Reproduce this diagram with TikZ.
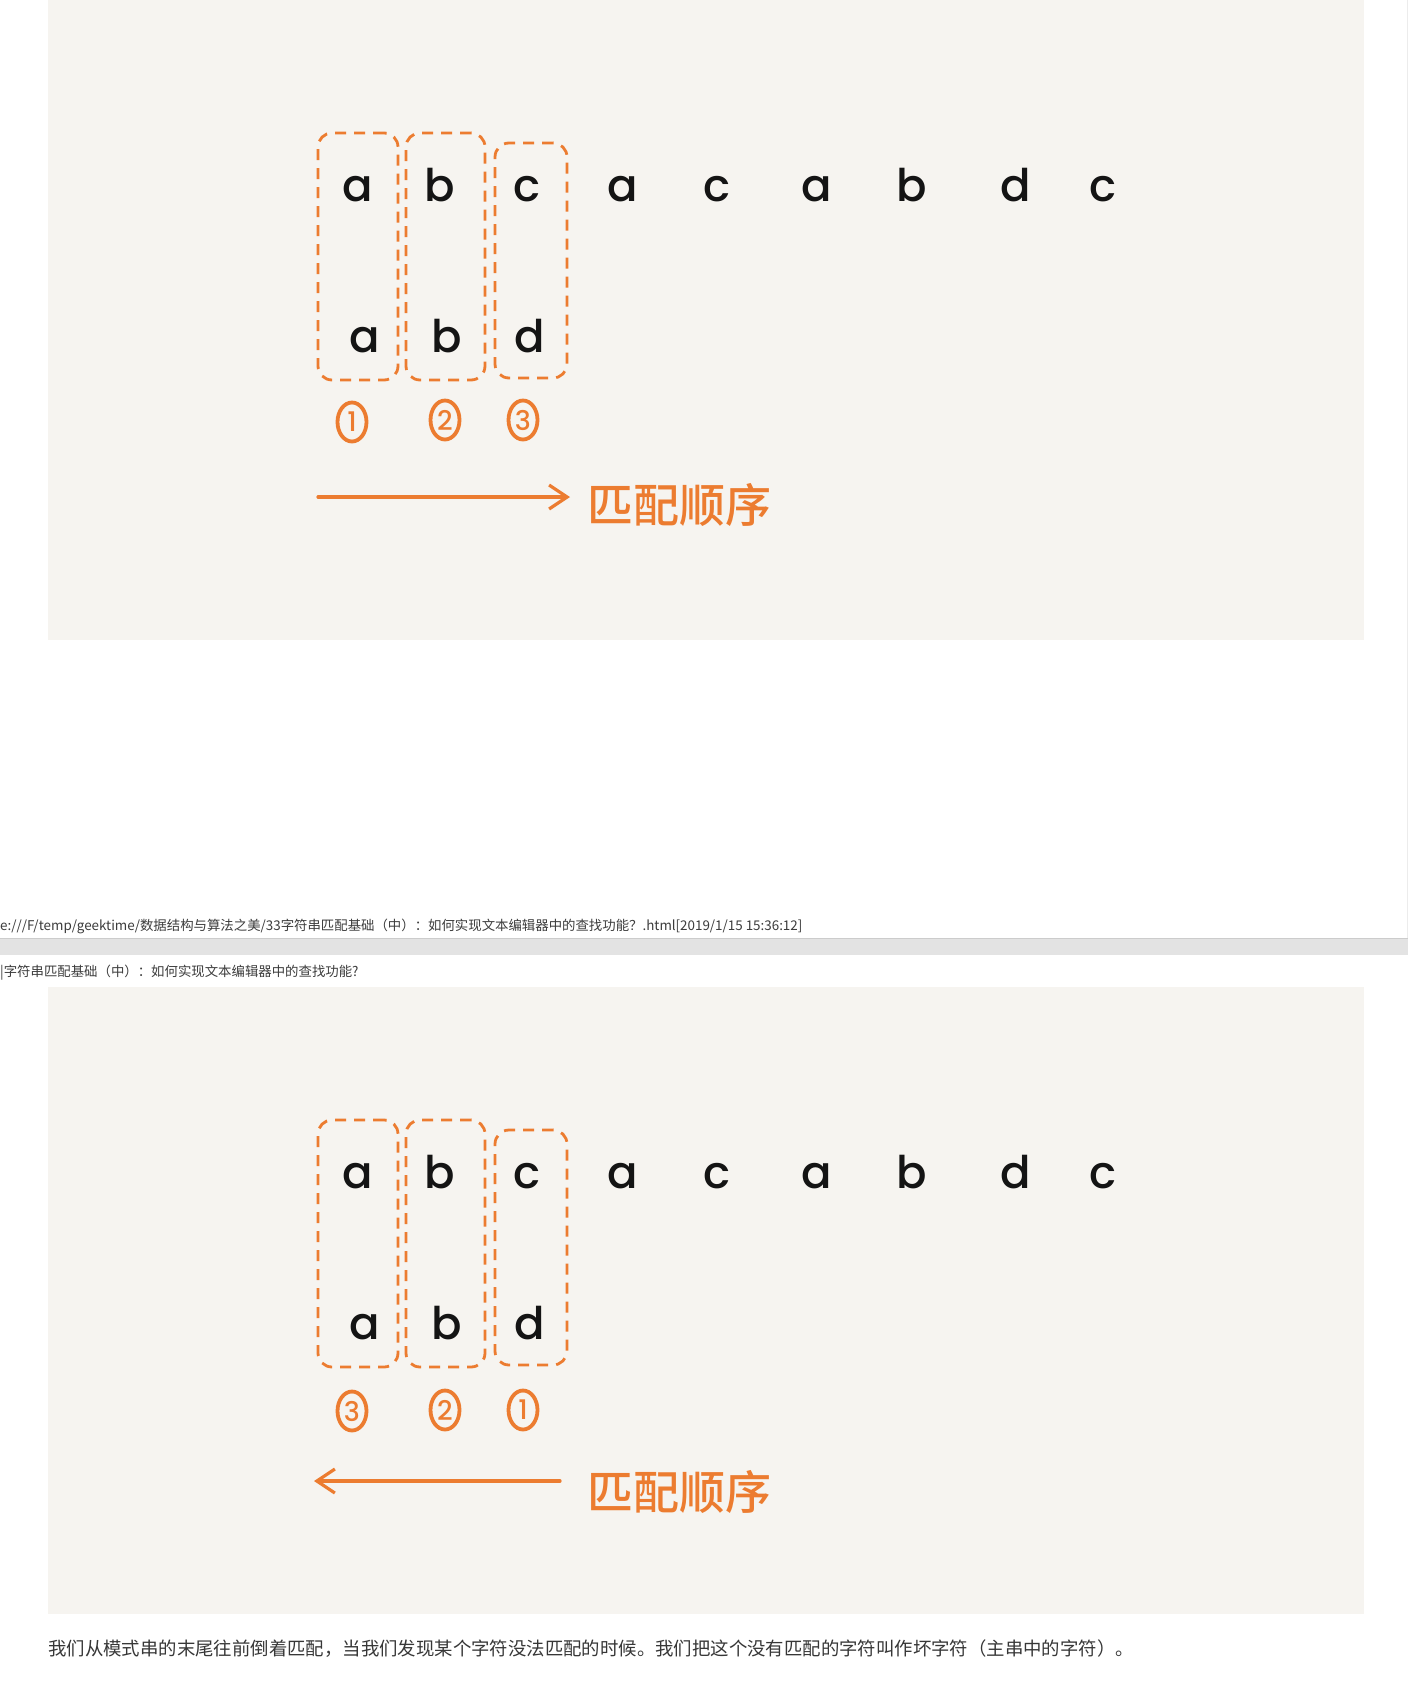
\documentclass[tikz,border=0pt]{standalone}
\usepackage{fontspec}
\usetikzlibrary{arrows.meta,shapes.geometric}
\newfontfamily\handfont{Poppins}[UprightFont={* Medium}]
\newfontfamily\cjk{Noto Sans CJK SC}
\newfontfamily\cjkmid{Noto Sans CJK SC Medium}

\definecolor{orange}{RGB}{236,124,48}
\definecolor{paper}{RGB}{246,244,240}
\definecolor{ink}{RGB}{20,20,20}
\definecolor{pagetext}{RGB}{60,60,60}

\tikzset{
	letter/.style={anchor=base, text=ink, inner sep=0pt, font=\handfont\fontsize{45}{45}\selectfont},
	matchbox/.style={draw=orange, line width=2.8pt, dash pattern=on 11pt off 8pt, rounded corners=14pt, inner sep=0pt},
	stepnum/.style={ellipse, draw=orange, line width=3.8pt, text=orange, inner sep=0pt, minimum width=29pt, minimum height=39pt, font=\handfont\fontsize{27}{27}\selectfont},
	orderlabel/.style={text=orange, inner sep=0pt, font=\cjkmid\fontsize{46}{46}\selectfont},
	orderarrow/.style={draw=orange, line width=3.2pt, line cap=round, -{Straight Barb[length=18pt,width=24pt]}},
	pagenote/.style={anchor=west, text=pagetext, inner sep=0pt, font=\cjk\fontsize{13.4}{13.4}\selectfont},
}

\begin{document}
\begin{tikzpicture}[x=1pt, y=-1pt]
	\useasboundingbox[fill=white] (0,0) rectangle (1408,1686);
	\fill[paper] (48,0) rectangle (1364,640);
	\fill[paper] (48,987) rectangle (1364,1614);
	\draw[gray!15] (1407,0) -- (1407,938);
	\fill[gray!22] (0,938) rectangle (1408,955);
	\draw[gray!40] (0,938.5) -- (1408,938.5);

	% upper panel: front to back
	\node[matchbox, minimum width=80pt, minimum height=247pt] (box1) at (358,256.5) {};
	\node[matchbox, minimum width=79pt, minimum height=247pt] (box2) at (445.5,256.5) {};
	\node[matchbox, minimum width=72pt, minimum height=235pt] (box3) at (531,260.5) {};

	\node[letter] (t1) at (358,201) {a};
	\node[letter] (t2) at (440,201) {b};
	\node[letter] (t3) at (527,201) {c};
	\node[letter] (t4) at (623,201) {a};
	\node[letter] (t5) at (717,201) {c};
	\node[letter] (t6) at (817,201) {a};
	\node[letter] (t7) at (912,201) {b};
	\node[letter] (t8) at (1016,201) {d};
	\node[letter] (t9) at (1103,201) {c};
	\node[letter] (p1) at (365,352) {a};
	\node[letter] (p2) at (447,352) {b};
	\node[letter] (p3) at (530,352) {d};

	\node[stepnum] (n1) at (352,422) {1};
	\node[stepnum] (n2) at (445,420) {2};
	\node[stepnum] (n3) at (523,420) {3};

	\coordinate (arrowA) at (318,497);
	\coordinate (arrowB) at (570,497);
	\draw[orderarrow] (arrowA) -- (arrowB);
	\node[orderlabel] (order1) at (679,505) {匹配顺序};

	\node[pagenote] (url) at (0,926) {e:///F/temp/geektime/数据结构与算法之美/33字符串匹配基础（中）：如何实现文本编辑器中的查找功能？.html[2019/1/15 15:36:12]};
	\node[pagenote] (title) at (0,973) {|字符串匹配基础（中）：如何实现文本编辑器中的查找功能?};

	% lower panel: back to front
	\node[matchbox, minimum width=80pt, minimum height=247pt] (boxB1) at (358,1243.5) {};
	\node[matchbox, minimum width=79pt, minimum height=247pt] (boxB2) at (445.5,1243.5) {};
	\node[matchbox, minimum width=72pt, minimum height=235pt] (boxB3) at (531,1247.5) {};

	\node[letter] (tB1) at (358,1188) {a};
	\node[letter] (tB2) at (440,1188) {b};
	\node[letter] (tB3) at (527,1188) {c};
	\node[letter] (tB4) at (623,1188) {a};
	\node[letter] (tB5) at (717,1188) {c};
	\node[letter] (tB6) at (817,1188) {a};
	\node[letter] (tB7) at (912,1188) {b};
	\node[letter] (tB8) at (1016,1188) {d};
	\node[letter] (tB9) at (1103,1188) {c};
	\node[letter] (pB1) at (365,1339) {a};
	\node[letter] (pB2) at (447,1339) {b};
	\node[letter] (pB3) at (530,1339) {d};

	\node[stepnum] (nB3) at (352,1411) {3};
	\node[stepnum] (nB2) at (445,1410) {2};
	\node[stepnum] (nB1) at (523,1410) {1};

	\coordinate (arrowC) at (560,1481);
	\coordinate (arrowD) at (314,1481);
	\draw[orderarrow] (arrowC) -- (arrowD);
	\node[orderlabel] (order2) at (679,1492) {匹配顺序};

	\node[pagenote, font=\cjk\fontsize{18.4}{18.4}\selectfont, text=ink!85] (note) at (48,1649) {我们从模式串的末尾往前倒着匹配，当我们发现某个字符没法匹配的时候。我们把这个没有匹配的字符叫作坏字符（主串中的字符）。};
\end{tikzpicture}
\end{document}
